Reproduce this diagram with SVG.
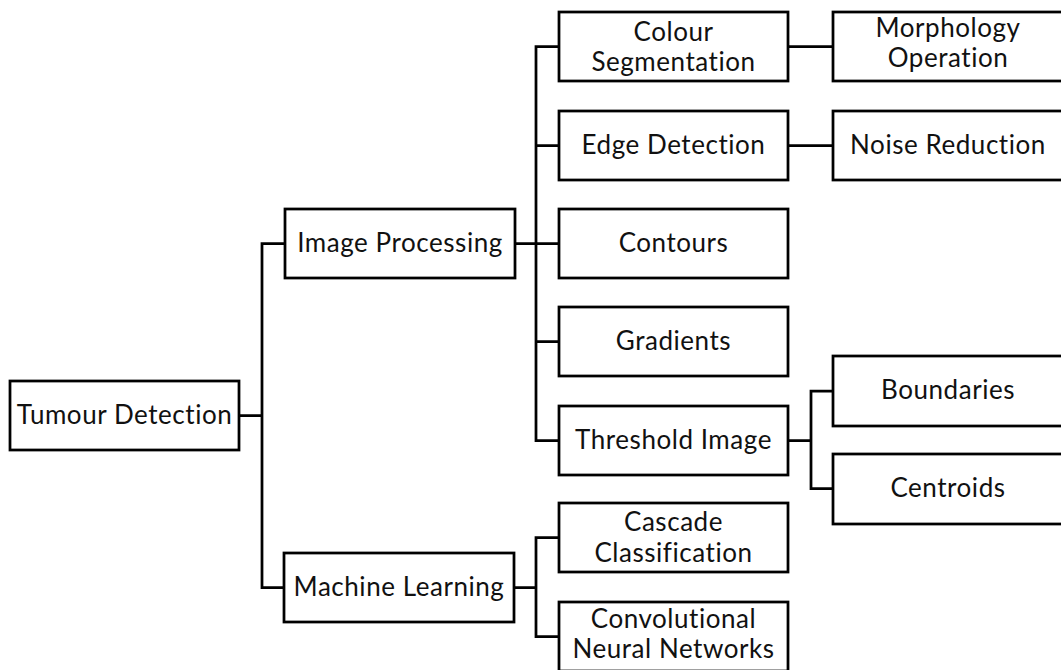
<svg xmlns="http://www.w3.org/2000/svg" width="1061" height="670" viewBox="0 0 1061 670">
  <style>
    .box { fill: #ffffff; stroke: #000000; stroke-width: 2.75; }
    .lbl { font-family: Lato, "Open Sans", "Liberation Sans", sans-serif; font-size: 26px; letter-spacing: 0.55px; fill: #111111; text-anchor: middle; }
    .wire { fill: none; stroke: #000000; stroke-width: 2.75; stroke-linejoin: miter; stroke-linecap: square; }
  </style>
  <rect width="1061" height="670" fill="#ffffff"/>

  <!-- connectors -->
  <g id="connectors" class="wire">
    <path d="M239,415.5 H262 M262,243.5 V587.5 M262,243.5 H285 M262,587.5 H284"/>
    <path d="M515,243.5 H536 M536,46.5 V440.5 M536,46.5 H559 M536,145.5 H559 M536,243.5 H559 M536,341.5 H559 M536,440.5 H559"/>
    <path d="M514,587.5 H536 M536,537.5 V636.5 M536,537.5 H559 M536,636.5 H559"/>
    <path d="M788,46.5 H833 M788,145.5 H833"/>
    <path d="M788,440.5 H811 M811,391 V488.5 M811,391 H833 M811,488.5 H833"/>
  </g>

  <!-- level 0 -->
  <g id="tumour-detection">
    <rect class="box" x="10" y="381" width="229" height="69"/>
    <text class="lbl" x="124.5" y="424">Tumour Detection</text>
  </g>

  <!-- level 1 -->
  <g id="image-processing">
    <rect class="box" x="285" y="209" width="230" height="69"/>
    <text class="lbl" x="400" y="252">Image Processing</text>
  </g>
  <g id="machine-learning">
    <rect class="box" x="284" y="553" width="230" height="69"/>
    <text class="lbl" x="399" y="596">Machine Learning</text>
  </g>

  <!-- level 2 -->
  <g id="colour-segmentation">
    <rect class="box" x="559" y="12" width="229" height="69"/>
    <text class="lbl" x="673.5" y="41">Colour</text>
    <text class="lbl" x="673.5" y="71">Segmentation</text>
  </g>
  <g id="edge-detection">
    <rect class="box" x="559" y="111" width="229" height="69"/>
    <text class="lbl" x="673.5" y="154">Edge Detection</text>
  </g>
  <g id="contours">
    <rect class="box" x="559" y="209" width="229" height="69"/>
    <text class="lbl" x="673.5" y="252">Contours</text>
  </g>
  <g id="gradients">
    <rect class="box" x="559" y="307" width="229" height="69"/>
    <text class="lbl" x="673.5" y="350">Gradients</text>
  </g>
  <g id="threshold-image">
    <rect class="box" x="559" y="406" width="229" height="69"/>
    <text class="lbl" x="673.5" y="449">Threshold Image</text>
  </g>
  <g id="cascade-classification">
    <rect class="box" x="559" y="503" width="229" height="69"/>
    <text class="lbl" x="673.5" y="531">Cascade</text>
    <text class="lbl" x="673.5" y="562">Classification</text>
  </g>
  <g id="convolutional-neural-networks">
    <rect class="box" x="559" y="602" width="229" height="69"/>
    <text class="lbl" x="673.5" y="628">Convolutional</text>
    <text class="lbl" x="673.5" y="658">Neural Networks</text>
  </g>

  <!-- level 3 -->
  <g id="morphology-operation">
    <rect class="box" x="833" y="12" width="230" height="69"/>
    <text class="lbl" x="948" y="37">Morphology</text>
    <text class="lbl" x="948" y="67">Operation</text>
  </g>
  <g id="noise-reduction">
    <rect class="box" x="833" y="111" width="230" height="69"/>
    <text class="lbl" x="948" y="154">Noise Reduction</text>
  </g>
  <g id="boundaries">
    <rect class="box" x="833" y="356" width="230" height="70"/>
    <text class="lbl" x="948" y="399">Boundaries</text>
  </g>
  <g id="centroids">
    <rect class="box" x="833" y="454" width="230" height="70"/>
    <text class="lbl" x="948" y="497">Centroids</text>
  </g>
</svg>
